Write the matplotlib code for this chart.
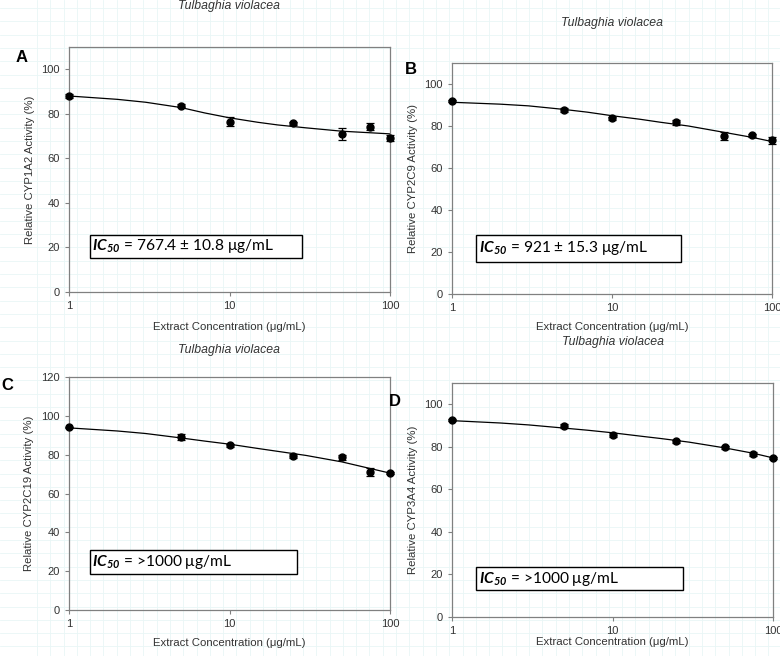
import numpy as np
import matplotlib
matplotlib.use("Agg")
import matplotlib.pyplot as plt
from matplotlib.patches import Rectangle

plt.rcParams['font.family'] = ['Liberation Sans', 'DejaVu Sans']
plt.rcParams['mathtext.fontset'] = 'custom'
plt.rcParams['mathtext.bf'] = 'Lato:italic:bold'

# concentrations (ug/mL)
conc = [1, 5, 10, 25, 50, 75, 100]

# measured activity (%) and error
act_1a2 = [87.9, 83.7, 76.5, 75.8, 71.0, 74.3, 69.1]
err_1a2 = [1.0, 0.8, 2.0, 0.7, 2.6, 1.5, 1.2]
act_2c9 = [91.8, 87.7, 83.6, 81.7, 75.2, 75.5, 73.1]
err_2c9 = [0.5, 0.8, 0.8, 1.2, 1.8, 0.7, 1.8]
act_2c19 = [94.0, 89.2, 84.9, 79.2, 78.7, 71.2, 70.8]
err_2c19 = [0.5, 1.5, 0.8, 1.0, 1.2, 2.0, 0.5]
act_3a4 = [92.5, 89.8, 85.6, 82.7, 79.7, 76.6, 74.7]
err_3a4 = [0.5, 1.0, 0.8, 0.7, 0.8, 0.8, 0.6]

# fitted curves
fit_x = [1, 2, 3, 5, 7, 10, 15, 20, 30, 50, 75, 100]
fit_1a2 = [88.0, 86.5, 85.2, 82.8, 80.4, 78.2, 76.2, 75.0, 73.7, 72.2, 71.5, 71.0]
fit_2c9 = [91.3, 90.4, 89.6, 87.9, 86.6, 84.9, 83.2, 81.8, 80.0, 77.0, 74.6, 72.6]
fit_2c19 = [93.8, 92.2, 90.9, 88.6, 87.0, 85.4, 83.2, 81.7, 79.6, 76.3, 72.9, 70.5]
fit_3a4 = [92.3, 91.2, 90.3, 88.8, 87.8, 86.6, 85.0, 83.9, 82.2, 79.5, 77.0, 74.8]

panels = [
    ("A", "Relative CYP1A2 Activity (%)", act_1a2, err_1a2, fit_1a2, 110, 20,
     "767.4 ± 10.8 μg/mL"),
    ("B", "Relative CYP2C9 Activity (%)", act_2c9, err_2c9, fit_2c9, 110, 20,
     "921 ± 15.3 μg/mL"),
    ("C", "Relative CYP2C19 Activity (%)", act_2c19, err_2c19, fit_2c19, 120, 20,
     ">1000 μg/mL"),
    ("D", "Relative CYP3A4 Activity (%)", act_3a4, err_3a4, fit_3a4, 110, 20,
     ">1000 μg/mL"),
]

W, H = 780, 656
fig = plt.figure(figsize=(W / 100, H / 100), dpi=100)

# faint graph-paper background
bg = fig.add_axes([0, 0, 1, 1], zorder=-5)
bg.set_xlim(0, W)
bg.set_ylim(H, 0)
for gx in np.arange(37, W, 13.3):
    bg.axvline(gx, color='#e9f6f6', lw=0.6)
for gy in np.arange(8, H, 13.3):
    bg.axhline(gy, color='#e9f6f6', lw=0.6)
bg.axis('off')

# axes boxes in pixels: left, top, right, bottom
boxes = [(69, 47, 390, 292), (452, 63, 772, 294),
         (69, 377, 390, 610), (452, 383, 773, 617)]
# IC50 frames in axes fraction: x0, y0, x1, y1
frames = [(0.065, 0.139, 0.726, 0.233), (0.075, 0.139, 0.716, 0.255),
          (0.065, 0.155, 0.710, 0.258), (0.075, 0.115, 0.720, 0.214)]
title_y = [6, 23, 350, 342]
letter_xy = [(16, 57), (405, 70), (1, 385), (389, 402)]
xlabel_y = [327, 327, 643, 642]

for i, (let, ylab, act, err, fit, ymax, step, ic) in enumerate(panels):
    l, t, r, b = boxes[i]
    ax = fig.add_axes([l / W, 1 - b / H, (r - l) / W, (b - t) / H])
    ax.set_xscale('log')
    ax.plot(fit_x, fit, color='black', lw=0.9, zorder=2)
    ax.errorbar(conc, act, yerr=err, fmt='o', color='black', ms=5,
                capsize=3, elinewidth=0.9, capthick=0.9, zorder=3, clip_on=False)
    ax.set_xlim(1, 100)
    ax.set_ylim(0, ymax)
    ax.set_yticks(np.arange(0, ymax if ymax % 20 else ymax + 1, step))
    ax.set_xticks([1, 10, 100])
    ax.set_xticklabels(['1', '10', '100'])
    ax.minorticks_off()
    ax.patch.set_alpha(0)
    for s in ax.spines.values():
        s.set_color('#808080')
        s.set_linewidth(0.9)
    ax.tick_params(length=3, width=0.8, color='#808080', labelsize=8,
                   labelcolor='#333333')
    ax.set_ylabel(ylab, fontsize=8.2, color='#333333', labelpad=5)
    fig.text((l + r) / 2 / W, 1 - xlabel_y[i] / H,
             'Extract Concentration (μg/mL)', fontsize=8.2, color='#333333',
             ha='center', va='center')
    fig.text((l + r) / 2 / W, 1 - title_y[i] / H, 'Tulbaghia violacea',
             fontsize=8.8, style='italic', color='#333333', ha='center', va='center')
    fig.text(letter_xy[i][0] / W, 1 - letter_xy[i][1] / H, let, fontsize=12,
             fontweight='bold', ha='left', va='center')

    x0, y0, x1, y1 = frames[i]
    ax.add_patch(Rectangle((x0, y0), x1 - x0, y1 - y0, transform=ax.transAxes,
                           facecolor='white', edgecolor='black', lw=1.0, zorder=4))
    ax.text(x0 + 0.008, (y0 + y1) / 2, r'$\mathbf{IC_{50}}$ = ' + ic,
            transform=ax.transAxes, fontsize=11.2, family=['Lato', 'DejaVu Sans'],
            ha='left', va='center', zorder=5)

fig.savefig('out.png', dpi=100)
